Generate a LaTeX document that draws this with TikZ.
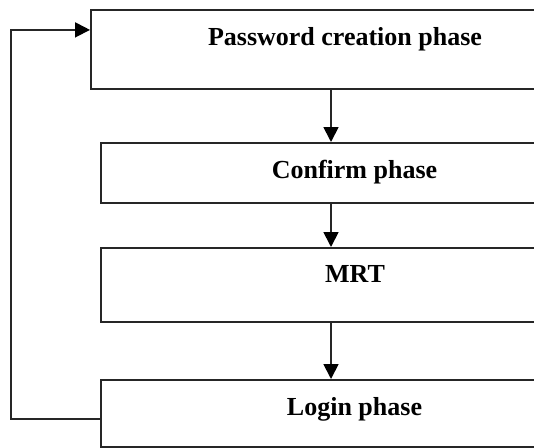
\documentclass[tikz,border=0pt]{standalone}
\usepackage{fontspec}
\setmainfont{Liberation Serif}
\usetikzlibrary{arrows.meta}
\begin{document}
\begin{tikzpicture}[x=1pt,y=-1pt,
  phasebox/.style={draw=black!85, line width=1.8pt, rectangle, inner sep=0pt, anchor=north west},
  phasetext/.style={font=\fontsize{26}{30}\selectfont\bfseries, text=black, inner sep=0pt, anchor=base},
  flow/.style={draw=black!85, line width=1.8pt, -{Triangle[length=15pt,width=15pt,color=black]}}]
\useasboundingbox (0,0) rectangle (534,447);
\begin{scope}
\clip (0,0) rectangle (534,447);
% phase boxes (they run on past the right edge)
\node[phasebox, minimum width=520pt, minimum height=79pt] (create)  at (90,9)   {};
\node[phasebox, minimum width=510pt, minimum height=60pt] (confirm) at (100,142) {};
\node[phasebox, minimum width=510pt, minimum height=74pt] (mrt)     at (100,247) {};
\node[phasebox, minimum width=510pt, minimum height=67pt] (login)   at (100,379) {};
% labels
\node[phasetext] (tcreate)  at (345,45)    {Password creation phase};
\node[phasetext] (tconfirm) at (354.5,178) {Confirm phase};
\node[phasetext] (tmrt)     at (355,282.5) {MRT};
\node[phasetext] (tlogin)   at (354.5,415) {Login phase};
% downward flow
\coordinate (ax) at (331,0);
\draw[flow] (ax |- create.south)  -- (ax |- confirm.north);
\draw[flow] (ax |- confirm.south) -- (ax |- mrt.north);
\draw[flow] (ax |- mrt.south)     -- (ax |- login.north);
% loop back from login to password creation
\coordinate (loopx) at (11,200);
\draw[flow] ([yshift=-5.5pt]login.west) -| (loopx) |- ([yshift=19.5pt]create.west);
\end{scope}
\end{tikzpicture}
\end{document}
